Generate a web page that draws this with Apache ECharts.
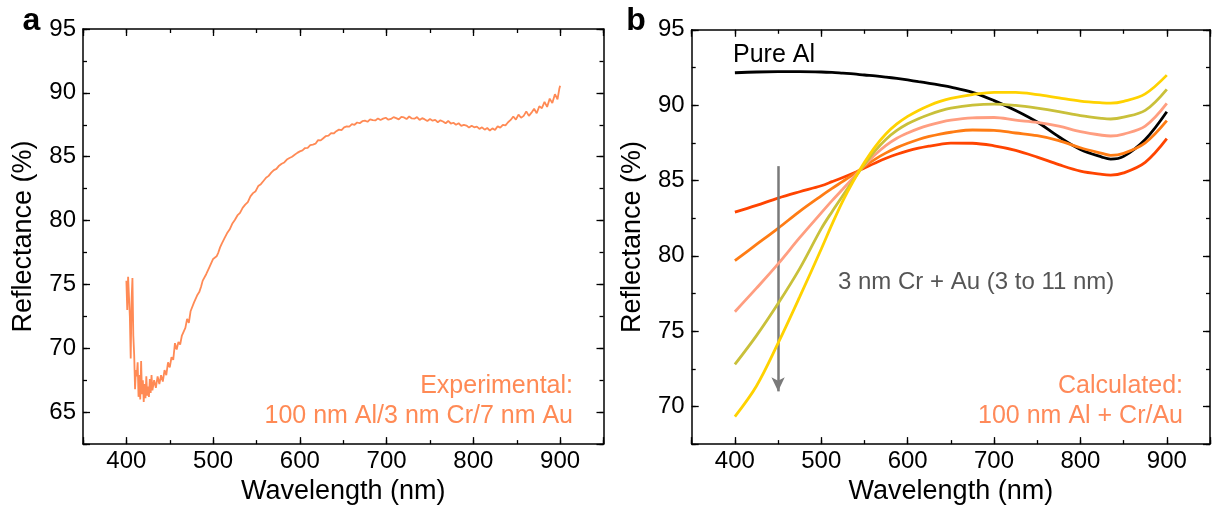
<!DOCTYPE html>
<html>
<head>
<meta charset="utf-8">
<script src="https://cdn.jsdelivr.net/npm/echarts@6/dist/echarts.min.js"></script>
<style>
html,body{margin:0;padding:0;background:#fff;}
#chart{width:1213px;height:510px;}
</style>
</head>
<body>
<div id="chart"></div>
<script>
// ---------- Data ----------
// Panel a: experimental spectrum [wavelength nm, reflectance %]
const expData = [
[400,75.3],[401,73.0],[402,75.6],[403,75.7],[404,72.5],[405,69.2],[406,73.8],[407,75.5],[408,71.0],[409,69.5],
[410,66.8],[411,68.3],[412,67.8],[413,68.9],[414,66.2],[415,67.9],[416,66.0],[417,69.0],[418,66.4],[419,67.5],
[420,65.8],[421,67.2],[422,66.1],[423,67.8],[424,66.3],[425,67.0],[426,66.2],[427,67.6],[428,66.5],[429,67.9],
[430,66.7],[432,67.5],[434,66.9],[436,67.8],[438,67.2],[440,67.9],[442,67.4],[444,68.3],[446,67.9],[448,68.9],
[450,68.5],[452,69.3],[454,69.1],[456,70.4],[458,69.9],[460,70.5],[462,70.3],[464,71.0],[466,70.9],[468,71.6],
[470,72.3],[472,72.0],[474,72.9],[476,72.8],[478,73.6],[480,73.5],[482,74.2],[484,74.4],[486,74.8],[488,75.3],
[490,75.2],[492,75.8],[494,75.9],[496,76.4],[498,76.5],[500,77.0],[502,77.1],[504,77.2],[506,77.5],[508,77.9],
[510,78.2],[513,78.6],[516,79.0],[519,79.3],[522,79.75],[525,80.05],[528,80.4],[531,80.6],[534,81.0],[537,81.25],
[540,81.45],[543,81.9],[546,82.15],[549,82.3],[552,82.7],[555,82.85],[558,83.1],[561,83.35],[564,83.5],[567,83.75],
[570,83.95],[573,84.05],[576,84.3],[579,84.45],[582,84.55],[585,84.78],[588,84.9],[591,85.0],[594,85.15],[597,85.3],
[600,85.42],[603,85.5],[606,85.68],[609,85.7],[612,85.9],[615,85.95],[618,86.02],[621,86.3],[624,86.28],[627,86.45],
[630,86.62],[633,86.65],[636,86.85],[639,86.82],[642,87.0],[645,87.12],[648,87.08],[651,87.3],[654,87.38],[657,87.36],
[660,87.55],[663,87.5],[666,87.68],[669,87.62],[672,87.78],[675,87.82],[678,87.74],[681,87.92],[684,87.86],[687,87.84],
[690,88.0],[693,87.88],[696,87.98],[699,88.05],[702,87.9],[705,87.96],[708,88.1],[711,88.02],[714,87.92],[717,88.12],
[720,88.08],[723,87.95],[726,88.15],[729,88.0],[732,87.98],[735,88.1],[738,87.88],[741,88.02],[744,87.92],[747,87.8],
[750,87.95],[753,87.82],[756,87.88],[759,87.7],[762,87.85],[765,87.76],[768,87.62],[771,87.8],[774,87.6],[777,87.66],
[780,87.5],[783,87.62],[786,87.42],[789,87.5],[792,87.44],[795,87.28],[798,87.42],[801,87.3],[804,87.36],[807,87.18],
[810,87.3],[813,87.12],[816,87.25],[819,87.05],[822,87.22],[825,87.1],[828,87.38],[831,87.28],[834,87.5],[837,87.45],
[840,87.7],[843,87.88],[846,88.15],[849,87.9],[852,88.3],[855,88.05],[858,88.2],[861,88.55],[864,88.2],[867,88.45],
[870,88.75],[873,88.4],[876,88.95],[879,88.8],[882,89.3],[885,88.9],[888,89.55],[891,89.2],[894,89.9],[897,89.5],
[899,90.3],[900,90.55]
];

// Panel b: calculated spectra
const calcWavelength = [400,425,450,475,500,512.5,525,537.5,550,562.5,575,587.5,600,612.5,625,637.5,650,675,700,725,750,775,800,825,835,850,875,900];
const pureAl  = [92.15,92.2,92.22,92.22,92.2,92.17,92.12,92.07,92.0,91.94,91.86,91.77,91.67,91.56,91.45,91.33,91.2,90.85,90.3,89.65,88.88,87.9,87.05,86.55,86.42,86.6,87.72,89.56];
const au3nm   = [82.9,83.35,83.83,84.25,84.65,84.92,85.2,85.5,85.83,86.16,86.47,86.74,86.96,87.14,87.28,87.4,87.48,87.47,87.3,87.0,86.55,86.05,85.62,85.4,85.36,85.5,86.2,87.77];
const au5nm   = [79.68,80.75,81.82,82.95,83.98,84.47,84.94,85.42,85.93,86.42,86.83,87.18,87.47,87.72,87.92,88.08,88.2,88.35,88.33,88.15,87.97,87.65,87.17,86.8,86.67,86.8,87.5,88.97];
const au7nm   = [76.29,77.85,79.46,81.2,82.85,83.66,84.43,85.22,86.0,86.72,87.33,87.8,88.15,88.44,88.67,88.86,89.0,89.15,89.18,89.0,88.85,88.6,88.24,88.0,87.95,88.08,88.6,90.11];
const au9nm   = [72.79,74.7,76.83,79.15,81.8,82.93,84.0,85.06,86.06,86.98,87.74,88.32,88.76,89.1,89.38,89.62,89.8,90.0,90.07,89.98,89.8,89.57,89.3,89.12,89.08,89.2,89.65,91.05];
const au11nm  = [69.33,71.36,74.2,77.27,80.45,82.1,83.65,85.0,86.2,87.25,88.1,88.75,89.25,89.65,89.98,90.25,90.45,90.7,90.85,90.85,90.7,90.48,90.27,90.15,90.13,90.25,90.75,91.99];

const calcSeriesNames  = ['Pure Al','3 nm Au','5 nm Au','7 nm Au','9 nm Au','11 nm Au'];
const calcSeriesValues = [pureAl, au3nm, au5nm, au7nm, au9nm, au11nm];
const calcColors       = ['#000000','#ff4400','#ff7c14','#ff9e80','#c9c03a','#ffd200'];

// Arrow in panel b (wavelength, from reflectance, to reflectance)
const arrowX = 450, arrowFrom = 85.95, arrowTo = 71.0;

// Axis ranges
const xRange = [350, 950];
const yRangeA = [62.5, 95];
const yRangeB = [67.5, 95];

// ---------- Chart ----------
const FONT = 'Liberation Sans, Arial, Helvetica, sans-serif';
const chart = echarts.init(document.getElementById('chart'), null, {renderer: 'canvas'});

function pairs(xs, ys) { return xs.map((x, i) => [x, ys[i]]); }

const lineBlack = {color: '#000', width: 1.5};

function xAxes(g) {
  const base = {gridIndex: g, type: 'value', min: xRange[0], max: xRange[1], splitLine: {show: false}};
  return [
    Object.assign({}, base, {position: 'bottom', splitNumber: 6,
      axisLine: {show: true, onZero: false, lineStyle: lineBlack},
      axisTick: {show: true, inside: true, length: 7, lineStyle: {color: '#000', width: 1.3}},
      axisLabel: {show: true, margin: 5, fontSize: 24, color: '#000', fontFamily: FONT,
        formatter: v => (v % 100 === 0 ? String(v) : '')},
      name: 'Wavelength (nm)', nameLocation: 'middle', nameGap: 28,
      nameTextStyle: {fontSize: 27, color: '#000', fontFamily: FONT}}),
    Object.assign({}, base, {position: 'bottom', interval: 50,
      axisLine: {show: false, onZero: false},
      axisTick: {show: true, inside: true, length: 4, lineStyle: {color: '#000', width: 1.3}},
      axisLabel: {show: false}}),
    Object.assign({}, base, {position: 'top', splitNumber: 6,
      axisLine: {show: true, onZero: false, lineStyle: lineBlack},
      axisTick: {show: true, inside: true, length: 7, lineStyle: {color: '#000', width: 1.3}},
      axisLabel: {show: false}}),
    Object.assign({}, base, {position: 'top', interval: 50,
      axisLine: {show: false, onZero: false},
      axisTick: {show: true, inside: true, length: 4, lineStyle: {color: '#000', width: 1.3}},
      axisLabel: {show: false}})
  ];
}

function yAxes(g, range) {
  const base = {gridIndex: g, type: 'value', min: range[0], max: range[1], splitLine: {show: false}};
  return [
    Object.assign({}, base, {position: 'left', splitNumber: 6,
      axisLine: {show: true, onZero: false, lineStyle: lineBlack},
      axisTick: {show: true, inside: true, length: 7, lineStyle: {color: '#000', width: 1.3}},
      axisLabel: {show: true, margin: 7, fontSize: 24, color: '#000', fontFamily: FONT,
        formatter: v => (Math.abs(v % 5) < 1e-9 ? String(v) : '')},
      name: 'Reflectance (%)', nameLocation: 'middle', nameGap: 46,
      nameTextStyle: {fontSize: 27, color: '#000', fontFamily: FONT}}),
    Object.assign({}, base, {position: 'left', interval: 2.5,
      axisLine: {show: false, onZero: false},
      axisTick: {show: true, inside: true, length: 4, lineStyle: {color: '#000', width: 1.3}},
      axisLabel: {show: false}}),
    Object.assign({}, base, {position: 'right', splitNumber: 6,
      axisLine: {show: true, onZero: false, lineStyle: lineBlack},
      axisTick: {show: true, inside: true, length: 7, lineStyle: {color: '#000', width: 1.3}},
      axisLabel: {show: false}}),
    Object.assign({}, base, {position: 'right', interval: 2.5,
      axisLine: {show: false, onZero: false},
      axisTick: {show: true, inside: true, length: 4, lineStyle: {color: '#000', width: 1.3}},
      axisLabel: {show: false}})
  ];
}

const series = [{
  type: 'line', xAxisIndex: 0, yAxisIndex: 0, data: expData,
  showSymbol: false, symbol: 'none', smooth: false,
  lineStyle: {color: '#ff8a55', width: 1.8}, silent: true, animation: false
}];

calcSeriesValues.forEach((vals, i) => {
  const s = {
    name: calcSeriesNames[i], type: 'line', xAxisIndex: 4, yAxisIndex: 4,
    data: pairs(calcWavelength, vals), showSymbol: false, symbol: 'none', smooth: 0.35,
    lineStyle: {color: calcColors[i], width: 2.8}, silent: true, animation: false, z: 2 + i
  };
  if (i === 0) {
    s.markLine = {
      silent: true, animation: false, symbol: ['none', 'arrow'], symbolSize: [10, 14],
      label: {show: false},
      lineStyle: {color: '#7a7a7a', width: 2.5, type: 'solid'},
      data: [[{coord: [arrowX, arrowFrom]}, {coord: [arrowX, arrowTo]}]]
    };
  }
  series.push(s);
});

const option = {
  backgroundColor: '#ffffff',
  animation: false,
  grid: [
    {left: 83, top: 29, width: 520.5, height: 420},
    {left: 691.7, top: 29.8, width: 519, height: 419}
  ],
  xAxis: xAxes(0).concat(xAxes(1)),
  yAxis: yAxes(0, yRangeA).concat(yAxes(1, yRangeB)),
  series: series,
  graphic: [
    {type: 'text', x: 31.5, y: 21, style: {text: 'a', font: 'bold 32px ' + FONT, fill: '#000', align: 'center', verticalAlign: 'middle'}},
    {type: 'text', x: 636, y: 21, style: {text: 'b', font: 'bold 32px ' + FONT, fill: '#000', align: 'center', verticalAlign: 'middle'}},
    {type: 'text', x: 573, y: 386, style: {text: 'Experimental:', font: '25px ' + FONT, fill: '#ff8a55', align: 'right', verticalAlign: 'middle'}},
    {type: 'text', x: 573, y: 416, style: {text: '100 nm Al/3 nm Cr/7 nm Au', font: '25px ' + FONT, fill: '#ff8a55', align: 'right', verticalAlign: 'middle'}},
    {type: 'text', x: 733, y: 55, style: {text: 'Pure Al', font: '25px ' + FONT, fill: '#000', align: 'left', verticalAlign: 'middle'}},
    {type: 'text', x: 838, y: 282, style: {text: '3 nm Cr + Au (3 to 11 nm)', font: '24px ' + FONT, fill: '#555555', align: 'left', verticalAlign: 'middle'}},
    {type: 'text', x: 1183, y: 386, style: {text: 'Calculated:', font: '25px ' + FONT, fill: '#ff8a5a', align: 'right', verticalAlign: 'middle'}},
    {type: 'text', x: 1183, y: 416, style: {text: '100 nm Al + Cr/Au', font: '25px ' + FONT, fill: '#ff8a5a', align: 'right', verticalAlign: 'middle'}}
  ]
};
chart.setOption(option);
</script>
</body>
</html>
